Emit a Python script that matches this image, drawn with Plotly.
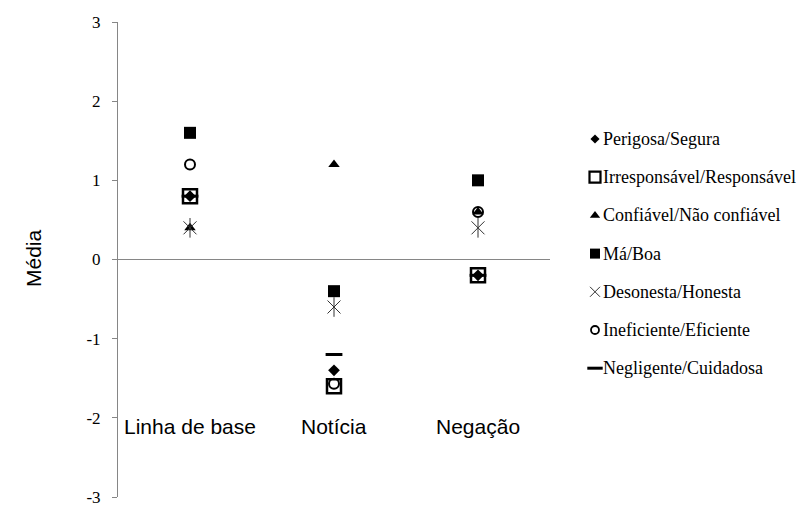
import plotly.graph_objects as go

# Grupos de medição
categorias = ["Linha de base", "Notícia", "Negação"]

# Médias por par de adjetivos
perigosa_segura = [0.8, -1.4, -0.2]
irresponsavel_responsavel = [0.8, -1.6, -0.2]
confiavel_nao_confiavel = [0.4, 1.2, 0.6]
ma_boa = [1.6, -0.4, 1.0]
desonesta_honesta = [0.4, -0.6, 0.4]
ineficiente_eficiente = [1.2, -1.57, 0.6]
negligente_cuidadosa = [0.8, -1.2, -0.2]

y_ticks = [-3, -2, -1, 0, 1, 2, 3]

W, H = 801, 508
SERIF = "Times New Roman, Liberation Serif, serif"
SANS = "Arial, Liberation Sans, sans-serif"

# plot box in pixels
PX_L, PX_R, PX_T, PX_B = 118, 550, 22, 497

series = [
    ("Perigosa/Segura", perigosa_segura,
     dict(symbol="diamond", size=9, color="black"),
     dict(symbol="diamond", size=7, color="black")),
    ("Irresponsável/Responsável", irresponsavel_responsavel,
     dict(symbol="square-open", size=14, color="black", line=dict(width=2.5, color="black")),
     dict(symbol="square-open", size=11, color="black", line=dict(width=2.2, color="black"))),
    ("Confiável/Não confiável", confiavel_nao_confiavel,
     dict(symbol="triangle-up", size=10, color="black"),
     dict(symbol="triangle-up", size=9, color="black")),
    ("Má/Boa", ma_boa,
     dict(symbol="square", size=12, color="black"),
     dict(symbol="square", size=10, color="black")),
    ("Desonesta/Honesta", desonesta_honesta,
     dict(symbol="x-thin-open", size=13, color="#333333", line=dict(width=1, color="#333333")),
     dict(symbol="x-thin-open", size=10, color="#333333", line=dict(width=1, color="#333333"))),
    ("Ineficiente/Eficiente", ineficiente_eficiente,
     dict(symbol="circle-open", size=10, color="black", line=dict(width=2, color="black")),
     dict(symbol="circle-open", size=8, color="black", line=dict(width=1.8, color="black"))),
    ("Negligente/Cuidadosa", negligente_cuidadosa,
     dict(symbol="line-ew-open", size=12, color="black", line=dict(width=3, color="black")),
     dict(symbol="line-ew-open", size=11, color="black", line=dict(width=3, color="black"))),
]

fig = go.Figure()
for nome, valores, marker, _ in series:
    fig.add_trace(go.Scatter(
        x=categorias, y=valores, mode="markers", name=nome,
        marker=marker, showlegend=False, xaxis="x", yaxis="y",
    ))
    if nome == "Desonesta/Honesta":
        # vertical stroke that turns the X into a star marker
        fig.add_trace(go.Scatter(
            x=categorias, y=valores, mode="markers", showlegend=False,
            hoverinfo="skip", xaxis="x", yaxis="y",
            marker=dict(symbol="line-ns-open", size=14, color="#333333",
                        line=dict(width=1, color="#333333")),
        ))

# legend drawn on a pixel-space overlay
LEG_X_MARK, LEG_X_TEXT = 595, 601
LEG_Y0, LEG_DY = 139, 38.2
for i, (nome, _, _, lmarker) in enumerate(series):
    ly = LEG_Y0 + i * LEG_DY
    fig.add_trace(go.Scatter(
        x=[LEG_X_MARK], y=[ly], mode="markers", marker=lmarker,
        showlegend=False, hoverinfo="skip", xaxis="x2", yaxis="y2",
    ))
    fig.add_annotation(x=LEG_X_TEXT, y=ly, xref="x2", yref="y2", text=nome,
                       showarrow=False, xanchor="left", yanchor="middle",
                       font=dict(family=SERIF, size=18, color="black"))

# category labels sitting inside the plot, near the lower part
for c in categorias:
    fig.add_annotation(x=c, y=-2.11, text=c, showarrow=False,
                       xref="x", yref="y", yanchor="middle",
                       font=dict(family=SANS, size=21, color="black"))

# axis title
fig.add_annotation(x=33, y=258, xref="x2", yref="y2", text="Média",
                   textangle=-90, showarrow=False, xanchor="center", yanchor="middle",
                   font=dict(family=SANS, size=21, color="black"))

fig.update_layout(
    width=W, height=H,
    margin=dict(l=0, r=0, t=0, b=0, autoexpand=False),
    paper_bgcolor="white", plot_bgcolor="rgba(0,0,0,0)",
    showlegend=False,
    font=dict(family=SERIF),
    xaxis=dict(
        domain=[PX_L / W, PX_R / W],
        type="category", categoryorder="array", categoryarray=categorias,
        range=[-0.5, 2.5], showticklabels=False, showline=False,
        showgrid=False, zeroline=False, ticks="", anchor="y",
    ),
    yaxis=dict(
        domain=[1 - PX_B / H, 1 - PX_T / H], anchor="x",
        range=[-3, 3], tickvals=y_ticks, ticktext=[str(v) for v in y_ticks],
        showline=True, linecolor="#868686", linewidth=1,
        ticks="outside", ticklen=5, tickcolor="#868686",
        showgrid=False, zeroline=True, zerolinecolor="#868686", zerolinewidth=1,
        tickfont=dict(family=SERIF, size=17, color="black"),
        ticklabelstandoff=8, automargin=False,
    ),
    xaxis2=dict(domain=[0, 1], range=[0, W], visible=False, anchor="y2",
                fixedrange=True),
    yaxis2=dict(domain=[0, 1], range=[H, 0], visible=False, anchor="x2",
                fixedrange=True),
)

fig.write_html("out.html")
